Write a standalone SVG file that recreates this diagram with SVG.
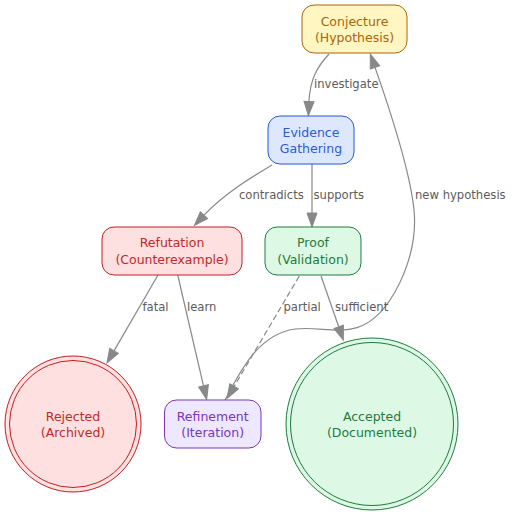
<svg xmlns="http://www.w3.org/2000/svg" width="514" height="516" viewBox="0 0 514 516">
<defs>
<marker id="ah" markerUnits="userSpaceOnUse" markerWidth="14" markerHeight="10" refX="0" refY="5" orient="auto" overflow="visible">
<path d="M0,0 L14,5 L0,10 z" fill="#888888" stroke="#888888" stroke-width="1"/>
</marker>
<style>
text{font-family:"DejaVu Sans","Liberation Sans",sans-serif;}
.nt{font-size:12.5px;text-anchor:middle;}
.lb{font-size:11.6px;fill:#5c5c5c;}
.e{fill:none;stroke:#888888;stroke-width:1.2;marker-end:url(#ah);}
.d{stroke-dasharray:6,3;}
.y{fill:#fff6c2;stroke:#a8650a;}
.b{fill:#dde8ff;stroke:#2255dd;}
.r{fill:#ffe0e0;stroke:#c02020;}
.g{fill:#ddf9e6;stroke:#1e7b3c;}
.p{fill:#ede8ff;stroke:#7a35b8;}
</style>
</defs>
<rect width="514" height="516" fill="#ffffff"/>
<g id="edges">
<path class="e" d="M329,54 C318,66 310,78 309,101.5"/>
<path class="e" d="M272,165 C252,177 225,193 204,215.2"/>
<path class="e" d="M312,164 L312,213"/>
<path class="e" d="M158,275 L114,350.9"/>
<path class="e" d="M177.7,275 L203.5,385.9"/>
<path class="e d" d="M299.3,276 L234.1,386.4"/>
<path class="e" d="M321,276 L338.7,326.8"/>
<path class="e" d="M225,400 C240,372 258,334 295,329 C330,325 360,345 390,300 C400,285 418,250 414,210 C410,170 390,110 375,67.4"/>
<text class="lb" x="314" y="88">investigate</text>
<text class="lb" x="239" y="199">contradicts</text>
<text class="lb" x="313.5" y="199">supports</text>
<text class="lb" x="415" y="199">new hypothesis</text>
<text class="lb" x="142.5" y="311">fatal</text>
<text class="lb" x="187" y="311">learn</text>
<text class="lb" x="283.5" y="311">partial</text>
<text class="lb" x="335" y="311">sufficient</text>
</g>
<g id="conjecture">
<rect class="y" x="302" y="5" width="105" height="48" rx="12"/>
<text class="nt" x="354.5" y="25.5" fill="#a8650a">Conjecture</text>
<text class="nt" x="354.5" y="42" fill="#a8650a">(Hypothesis)</text>
</g>
<g id="evidence">
<rect class="b" x="268" y="116" width="86" height="48" rx="12"/>
<text class="nt" x="311" y="136.5" fill="#2a5bd7">Evidence</text>
<text class="nt" x="311" y="153" fill="#2a5bd7">Gathering</text>
</g>
<g id="refutation">
<rect class="r" x="102" y="227" width="140" height="48" rx="12"/>
<text class="nt" x="172" y="247" fill="#c02828">Refutation</text>
<text class="nt" x="172" y="264" fill="#c02828">(Counterexample)</text>
</g>
<g id="proof">
<rect class="g" x="265" y="227" width="96" height="48" rx="12"/>
<text class="nt" x="313" y="247" fill="#1e7b3c">Proof</text>
<text class="nt" x="313" y="264" fill="#1e7b3c">(Validation)</text>
</g>
<g id="refinement">
<rect class="p" x="164.5" y="400" width="96.5" height="48" rx="12"/>
<text class="nt" x="212.7" y="420.5" fill="#7a35b8">Refinement</text>
<text class="nt" x="212.7" y="437" fill="#7a35b8">(Iteration)</text>
</g>
<g id="rejected">
<circle class="r" cx="73" cy="424" r="68"/>
<circle cx="73" cy="424" r="63.5" fill="none" stroke="#c02020"/>
<text class="nt" x="73" y="420.5" fill="#c02828">Rejected</text>
<text class="nt" x="73" y="437" fill="#c02828">(Archived)</text>
</g>
<g id="accepted">
<circle class="g" cx="372" cy="424" r="86"/>
<circle cx="372" cy="424" r="81.5" fill="none" stroke="#1e7b3c"/>
<text class="nt" x="372" y="420.5" fill="#1e7b3c">Accepted</text>
<text class="nt" x="372" y="437" fill="#1e7b3c">(Documented)</text>
</g>
</svg>
